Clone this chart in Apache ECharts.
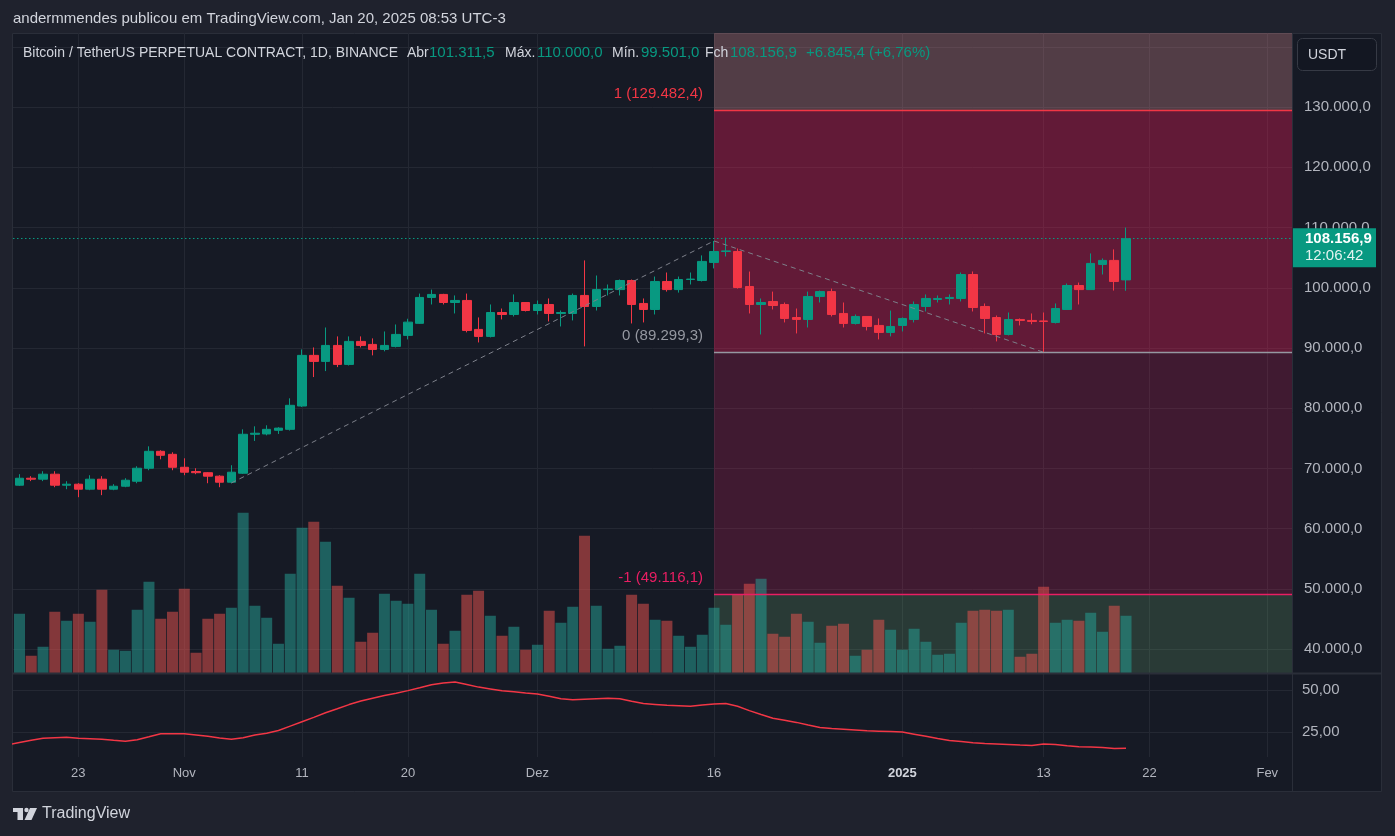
<!DOCTYPE html>
<html>
<head>
<meta charset="utf-8">
<script src="https://cdn.jsdelivr.net/npm/echarts@6/dist/echarts.min.js"></script>
<style>
html, body { margin: 0; padding: 0; background: #1f222d; }
#chart { width: 1395px; height: 836px; }
</style>
</head>
<body>
<div id="chart"></div>
<script>
// daily candles, index 0 = 18 Oct 2024 ... 94 = 20 Jan 2025
const opens = [67220, 68380, 68220, 69050, 67220, 67390, 66560, 68220, 66560, 67050,
  67880, 70040, 72850, 72350, 70200, 69500, 69300, 68720, 67720, 69210,
  75680, 75730, 76340, 76500, 80370, 88780, 87780, 90430, 87280, 91100,
  90600, 89770, 90270, 92100, 94100, 98400, 98900, 97560, 97900, 93090,
  91930, 95900, 95570, 97560, 96230, 97230, 95740, 95740, 98730, 96900,
  99700, 99700, 101210, 97400, 96400, 101050, 99700, 101380, 101210, 104210,
  106030, 106030, 100220, 97230, 97730, 97230, 95070, 94740, 98560, 99370,
  95740, 94080, 95240, 93750, 92590, 93750, 94740, 96900, 98060, 98230,
  98230, 102210, 96900, 95070, 92250, 94740, 94580, 94500, 94250, 96400,
  100380, 99700, 103880, 104550, 101311.5];
const highs = [69050, 68720, 69540, 69540, 67880, 67550, 68880, 68720, 67390, 68380,
  70370, 73680, 73020, 72690, 71690, 70040, 69400, 68880, 70540, 76500,
  77000, 77170, 76850, 81650, 89770, 90100, 93410, 91930, 91930, 91930,
  91600, 92750, 93910, 94860, 99040, 99700, 99000, 98730, 99040, 95080,
  97230, 96560, 98900, 97560, 97890, 98230, 96230, 99040, 104550, 102040,
  100550, 101380, 101380, 98230, 101870, 102540, 101870, 102540, 105380, 107780,
  108330, 106530, 102700, 98230, 99370, 97560, 96560, 99370, 99540, 99870,
  97560, 95570, 95240, 94910, 96220, 95070, 97730, 98900, 98730, 98900,
  102540, 102710, 97400, 95400, 95900, 94910, 95740, 95900, 97400, 100710,
  100870, 105710, 104880, 106380, 110000];
const lows = [67100, 67900, 67900, 66890, 66560, 65230, 66400, 65570, 66390, 66890,
  67550, 69710, 71520, 69710, 68880, 69050, 67550, 66890, 67550, 69100,
  74570, 75500, 75730, 76300, 80200, 85180, 86170, 86830, 87100, 90100,
  88780, 89450, 90100, 91430, 94000, 97230, 97230, 95740, 92600, 90930,
  91760, 94750, 95240, 96070, 95570, 94410, 93580, 94580, 90270, 96230,
  98730, 98730, 94080, 94250, 95570, 99370, 99200, 100550, 101050, 103220,
  105200, 99870, 95740, 92250, 96400, 94250, 92420, 93410, 97560, 95240,
  93410, 93900, 92920, 91430, 91930, 92750, 94250, 96070, 97560, 97230,
  97730, 96070, 92420, 91100, 92090, 93750, 93950, 89299.3, 94080, 96400,
  97230, 99700, 102210, 99540, 99501];
const closes = [68380, 68220, 69050, 67220, 67390, 66560, 68220, 66560, 67050, 68050,
  70040, 72850, 72190, 70200, 69380, 69300, 68720, 67720, 69380, 75680,
  75850, 76500, 76700, 80490, 88780, 87780, 90430, 87280, 91100, 90430,
  89770, 90430, 92260, 94300, 98400, 98900, 97560, 97900, 92920, 91930,
  95900, 95570, 97560, 96230, 97230, 95740, 95900, 98730, 96900, 99700,
  99800, 101210, 97230, 96400, 101050, 99700, 101380, 101450, 104380, 106030,
  106130, 100050, 97230, 97560, 97060, 94910, 94750, 98560, 99370, 95570,
  94080, 95240, 93580, 92590, 93580, 94910, 97230, 98230, 98230, 98400,
  102210, 96730, 94910, 92250, 94740, 94580, 94410, 94410, 96560, 100380,
  99700, 104050, 104550, 101050, 108156.9];
// volume in thousand BTC
const volumes = [237, 69, 105, 245, 209, 237, 205, 333, 93, 89,
  253, 365, 217, 245, 337, 81, 217, 237, 261, 641,
  269, 221, 117, 397, 581, 605, 525, 349, 301, 125,
  161, 317, 289, 277, 397, 253, 117, 169, 313, 329,
  229, 149, 185, 93, 113, 249, 201, 265, 549, 269,
  97, 109, 313, 277, 213, 209, 149, 105, 153, 261,
  193, 313, 357, 377, 157, 145, 237, 205, 121, 189,
  197, 69, 93, 213, 173, 93, 177, 125, 73, 77,
  201, 249, 253, 249, 253, 65, 77, 345, 201, 213,
  209, 241, 165, 269, 229];
// lower pane indicator, index 0 = 17 Oct 2024
const oscValues = [17.2, 18.6, 20.0, 21.2, 21.5, 21.7, 21.1, 20.8, 20.5, 19.9,
  19.4, 20.3, 22.0, 23.8, 23.8, 23.8, 23.1, 22.3, 21.3, 20.5,
  21.5, 23.1, 24.2, 25.8, 28.4, 31.0, 33.6, 36.3, 38.7, 41.2,
  43.3, 45.0, 46.6, 48.0, 49.5, 51.2, 53.0, 54.0, 54.6, 53.1,
  51.6, 50.5, 49.4, 48.8, 48.1, 47.5, 46.1, 44.7, 44.1, 44.4,
  44.7, 45.0, 44.7, 43.2, 41.8, 41.3, 40.8, 40.5, 40.2, 41.0,
  41.6, 41.9, 40.2, 37.6, 35.3, 33.1, 31.9, 30.6, 29.0, 27.6,
  26.9, 26.5, 26.1, 25.6, 25.4, 25.2, 24.9, 23.6, 22.3, 21.0,
  19.8, 19.2, 18.5, 18.1, 17.8, 17.5, 17.1, 16.9, 17.8, 17.5,
  16.7, 16.1, 15.9, 15.7, 15.1, 15.2];

const tickDays = [5, 14, 24, 33, 44, 59, 75, 87, 96, 106];
const tickLabels = ['23', 'Nov', '11', '20', 'Dez', '16', '2025', '13', '22', 'Fev'];
const priceTicks = [40000, 50000, 60000, 70000, 80000, 90000, 100000, 110000, 120000, 130000];
const priceGridLines = [40000, 50000, 60000, 70000, 80000, 90000, 100000, 110000, 120000, 130000, 140000];
const oscTicks = [25, 50];
const fibLevels = [129482.4, 89299.3, 49116.1];
const fibLabels = ['1 (129.482,4)', '0 (89.299,3)', '-1 (49.116,1)'];
const fibAnchors = [[18, 67597], [59, 107780], [87, 89299.3]];
const lastPrice = 108156.9;

const FONT = '"Liberation Sans", Arial, sans-serif';
const UP = '#089981';
const DOWN = '#f23645';
const TEXT = '#b2b5be';
const GRID = '#242833';
const X_MIN = -0.55, X_MAX = 108.1;
const Y_MIN = 36040, Y_MAX = 142308;
const FIB_START = fibAnchors[1][0];

function fmtPrice(v) {
  return Math.round(v).toString().replace(/\B(?=(\d{3})+(?!\d))/g, '.') + ',0';
}

const chart = echarts.init(document.getElementById('chart'), null, { renderer: 'canvas' });

const candleData = opens.map((o, i) => [i, o, closes[i], lows[i], highs[i]]);
const volumeData = volumes.map((v, i) => ({
  value: [i, v],
  itemStyle: { color: closes[i] >= opens[i] ? 'rgba(38,166,154,0.5)' : 'rgba(239,83,80,0.5)' }
}));
const oscData = oscValues.map((v, i) => [i - 1, v]);

const option = {
  animation: false,
  backgroundColor: '#1f222d',
  grid: [
    { left: 13, right: 103, top: 33, height: 640 },
    { left: 13, right: 103, top: 673, height: 84 }
  ],
  xAxis: [{
    gridIndex: 0, type: 'value', min: X_MIN, max: X_MAX,
    axisLine: { show: false },
    axisTick: { show: false, customValues: tickDays },
    axisLabel: { show: false, customValues: tickDays },
    splitLine: { show: true, lineStyle: { color: GRID, width: 1 } }
  }, {
    gridIndex: 1, type: 'value', min: X_MIN, max: X_MAX,
    axisLine: { show: false },
    axisTick: { show: false, customValues: tickDays },
    axisLabel: {
      customValues: tickDays, color: TEXT, fontSize: 13, fontFamily: FONT, margin: 10,
      formatter: v => {
        const t = tickLabels[tickDays.indexOf(Math.round(v))] || '';
        return t === '2025' ? '{b|2025}' : t;
      },
      rich: { b: { fontWeight: 'bold', fontSize: 13, color: '#d1d4dc', fontFamily: FONT } }
    },
    splitLine: { show: true, lineStyle: { color: GRID, width: 1 } }
  }],
  yAxis: [{
    gridIndex: 0, type: 'value', position: 'right', min: Y_MIN, max: Y_MAX,
    axisLine: { show: false },
    axisTick: { show: false, customValues: priceGridLines },
    axisLabel: { customValues: priceTicks, color: TEXT, fontSize: 15, fontFamily: FONT, margin: 12, formatter: fmtPrice },
    splitLine: { show: true, lineStyle: { color: GRID, width: 1 } }
  }, {
    gridIndex: 0, type: 'value', show: false, min: 0, max: 2560,
    splitLine: { show: false }
  }, {
    gridIndex: 1, type: 'value', position: 'right', min: 10, max: 60,
    axisLine: { show: false },
    axisTick: { show: false, customValues: oscTicks },
    axisLabel: { customValues: oscTicks, color: TEXT, fontSize: 15, fontFamily: FONT, margin: 10, formatter: v => v + ',00' },
    splitLine: { show: true, lineStyle: { color: GRID, width: 1 } }
  }],
  series: [{
    name: 'Volume', type: 'bar', xAxisIndex: 0, yAxisIndex: 1, z: 1,
    barWidth: 11, data: volumeData, silent: true
  }, {
    name: 'fibZones', type: 'line', xAxisIndex: 0, yAxisIndex: 0, z: 2,
    data: fibAnchors, symbol: 'none', lineStyle: { opacity: 0 }, silent: true,
    markArea: {
      silent: true,
      data: [
        [{ coord: [FIB_START, fibLevels[0]], itemStyle: { color: 'rgba(222,143,150,0.3)' } }, { coord: [X_MAX, Y_MAX] }],
        [{ coord: [FIB_START, fibLevels[1]], itemStyle: { color: 'rgba(240,30,90,0.35)' } }, { coord: [X_MAX, fibLevels[0]] }],
        [{ coord: [FIB_START, fibLevels[2]], itemStyle: { color: 'rgba(233,30,99,0.2)' } }, { coord: [X_MAX, fibLevels[1]] }],
        [{ coord: [FIB_START, Y_MIN], itemStyle: { color: 'rgba(122,191,127,0.2)' } }, { coord: [X_MAX, fibLevels[2]] }]
      ]
    },
    markLine: {
      silent: true, symbol: ['none', 'none'], label: { show: false },
      data: [
        [{ coord: [FIB_START, fibLevels[0]], lineStyle: { color: '#f23645', width: 1.3, type: 'solid' } }, { coord: [X_MAX, fibLevels[0]] }],
        [{ coord: [FIB_START, fibLevels[1]], lineStyle: { color: '#9598a1', width: 1.3, type: 'solid' } }, { coord: [X_MAX, fibLevels[1]] }],
        [{ coord: [FIB_START, fibLevels[2]], lineStyle: { color: '#e91e63', width: 1.3, type: 'solid' } }, { coord: [X_MAX, fibLevels[2]] }]
      ]
    }
  }, {
    name: 'BTCUSDT.P', type: 'candlestick', xAxisIndex: 0, yAxisIndex: 0, z: 3,
    barWidth: 9, data: candleData,
    itemStyle: { color: UP, color0: DOWN, borderColor: UP, borderColor0: DOWN, borderWidth: 1 },
    markLine: {
      silent: true, symbol: ['none', 'none'], label: { show: false },
      lineStyle: { color: UP, type: [1.5, 2.5], width: 1 },
      data: [{ yAxis: lastPrice }]
    }
  }, {
    name: 'fibPath', type: 'line', xAxisIndex: 0, yAxisIndex: 0, z: 4,
    data: fibAnchors, symbol: 'none', silent: true,
    lineStyle: { color: '#7d808a', width: 1, type: [5, 4] }
  }, {
    name: 'Indicador', type: 'line', xAxisIndex: 1, yAxisIndex: 2,
    data: oscData, symbol: 'none', silent: true,
    lineStyle: { color: '#f23645', width: 1.5 }
  }]
};

chart.setOption(option);

// frame, labels and overlays
const g = [];
g.push({ type: 'rect', z: -10, silent: true, shape: { x: 12.5, y: 33.5, width: 1369, height: 758 }, style: { fill: '#161a25', stroke: '#2a2e39', lineWidth: 1 } });
g.push({ type: 'line', z: 50, silent: true, shape: { x1: 1292.5, y1: 33, x2: 1292.5, y2: 792 }, style: { stroke: '#2a2e39', lineWidth: 1 } });
g.push({ type: 'line', z: 50, silent: true, shape: { x1: 12, y1: 673.5, x2: 1382, y2: 673.5 }, style: { stroke: '#2a2e39', lineWidth: 2 } });

function txt(x, y, text, fill, opts) {
  const o = Object.assign({ size: 14, weight: 'normal', align: 'left' }, opts || {});
  return {
    type: 'text', z: 100, silent: true, x: x, y: y,
    style: {
      text: text, fill: fill, font: o.weight + ' ' + o.size + 'px ' + FONT,
      align: o.align, verticalAlign: 'middle', textAlign: o.align, textVerticalAlign: 'middle'
    }
  };
}

g.push(txt(13, 19, 'andermmendes publicou em TradingView.com, Jan 20, 2025 08:53 UTC-3', '#d1d4dc', { size: 15 }));

const legendParts = [
  [23, 'Bitcoin / TetherUS PERPETUAL CONTRACT, 1D, BINANCE', '#d1d4dc', 14],
  [407, 'Abr', '#d1d4dc', 14], [429, '101.311,5', UP, 15],
  [505, 'Máx.', '#d1d4dc', 14], [537, '110.000,0', UP, 15],
  [612, 'Mín.', '#d1d4dc', 14], [641, '99.501,0', UP, 15],
  [705, 'Fch', '#d1d4dc', 14], [730, '108.156,9', UP, 15],
  [806, '+6.845,4 (+6,76%)', UP, 15]
];
legendParts.forEach(p => g.push(txt(p[0], 53, p[1], p[2], { size: p[3] })));

// fib level labels, placed from the axis scales
const fibColors = ['#f23645', '#9598a1', '#e91e63'];
fibLevels.forEach((lv, k) => {
  const pt = chart.convertToPixel({ xAxisIndex: 0, yAxisIndex: 0 }, [FIB_START, lv]);
  g.push(txt(pt[0] - 11, pt[1] - 16, fibLabels[k], fibColors[k], { align: 'right', size: 15 }));
});

// USDT box
g.push({ type: 'rect', z: 100, silent: true, shape: { x: 1297.5, y: 38.5, width: 79, height: 32, r: 5 }, style: { fill: '#131722', stroke: '#363a45', lineWidth: 1 } });
g.push(txt(1308, 55, 'USDT', '#d1d4dc', { size: 14 }));

// last price tag
const lp = chart.convertToPixel({ xAxisIndex: 0, yAxisIndex: 0 }, [0, lastPrice]);
g.push({ type: 'rect', z: 100, silent: true, shape: { x: 1293, y: lp[1] - 10.5, width: 83, height: 39 }, style: { fill: UP } });
g.push(txt(1305, lp[1], '108.156,9', '#ffffff', { weight: 'bold', size: 15 }));
g.push(txt(1305, lp[1] + 17, '12:06:42', '#e3f4f0', { size: 15 }));

// footer logo
g.push({ type: 'rect', z: 100, silent: true, shape: { x: 13, y: 808, width: 10, height: 4 }, style: { fill: '#d1d4dc' } });
g.push({ type: 'rect', z: 100, silent: true, shape: { x: 17.5, y: 808, width: 5.5, height: 12 }, style: { fill: '#d1d4dc' } });
g.push({ type: 'circle', z: 100, silent: true, shape: { cx: 26.5, cy: 810, r: 2.2 }, style: { fill: '#d1d4dc' } });
g.push({ type: 'polygon', z: 100, silent: true, shape: { points: [[30, 808], [37, 808], [31.5, 820], [24.5, 820]] }, style: { fill: '#d1d4dc' } });
g.push(txt(42, 814, 'TradingView', '#d1d4dc', { size: 16 }));

chart.setOption({ graphic: g });
</script>
</body>
</html>
